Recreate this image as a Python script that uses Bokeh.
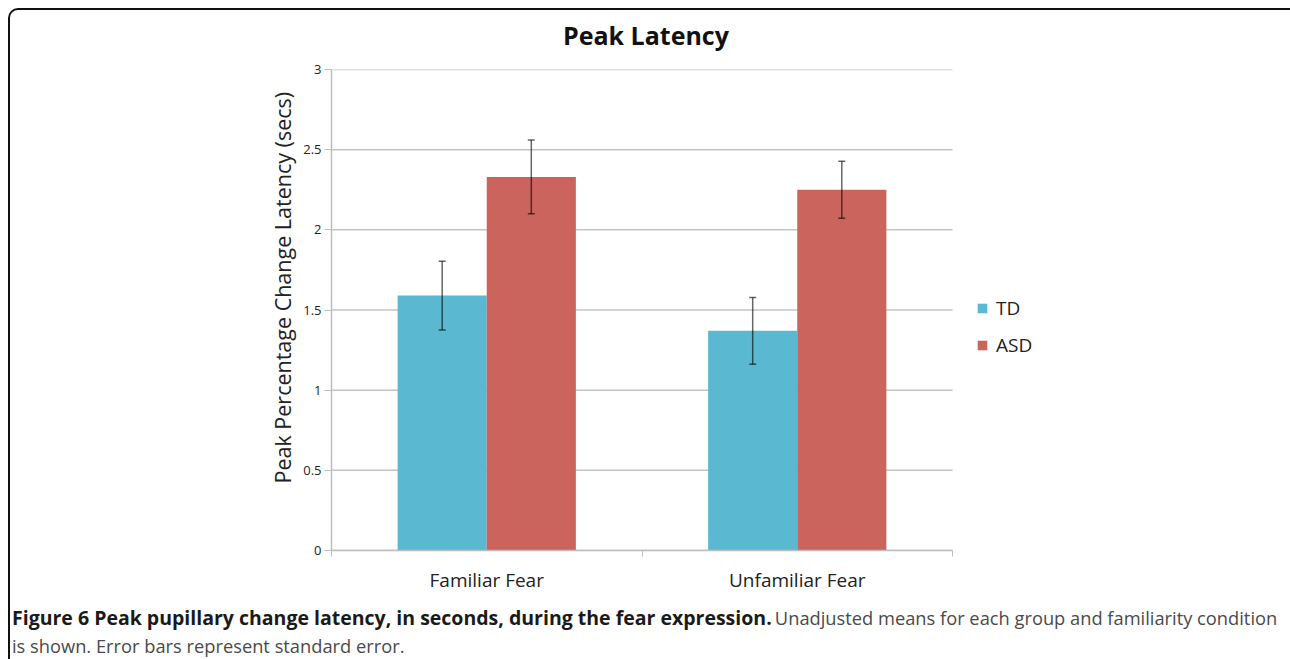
import numpy as np
from bokeh.plotting import figure
from bokeh.layouts import column
from bokeh.models import (ColumnDataSource, Range1d, FixedTicker, Whisker, TeeHead,
                          Legend, LegendItem, Title, Div)
from bokeh.embed import file_html
from bokeh.resources import INLINE

# ---- data ----
categories = ["Familiar Fear", "Unfamiliar Fear"]
groups = ["TD", "ASD"]
td_means = [1.59, 1.37]
td_se = [0.214, 0.208]
asd_means = [2.33, 2.25]
asd_se = [0.23, 0.177]
y_ticks = [0, 0.5, 1, 1.5, 2, 2.5, 3]
y_tick_labels = ["0", "0.5", "1", "1.5", "2", "2.5", "3"]
title_text = "Peak Latency"
y_title = "Peak Percentage Change Latency (secs)"
caption_bold = "Figure 6 Peak pupillary change latency, in seconds, during the fear expression."
caption_rest1 = "Unadjusted means for each group and familiarity condition"
caption_rest2 = "is shown. Error bars represent standard error."

TD_COLOR = "#5ab8d1"
ASD_COLOR = "#cb645d"
FONT = "Open Sans"

# ---- layout (canvas pixels; figure canvas starts at page (10,59)) ----
W = 1280
TITLE_H = 49
H = 541
FL, FT, FB = 321, 10, 491
PLOT_W = 621            # width of the axis/grid region in px
RIGHT = 10              # frame extends over the legend area
YMAX = 3
ncat = len(categories)
x_end = ncat * (W - RIGHT - FL) / PLOT_W

p = figure(width=W, height=H, output_backend="svg", toolbar_location=None,
           x_range=Range1d(0, x_end), y_range=Range1d(0, YMAX),
           min_border_left=FL, min_border_right=RIGHT,
           min_border_top=FT, min_border_bottom=H - FB)
p.background_fill_color = "white"
p.border_fill_color = "white"
p.outline_line_color = None

# horizontal grid lines, limited to the category span
GRID_COL = "#c4c4c4"
p.segment(x0=np.zeros(len(y_ticks)), y0=y_ticks, x1=np.full(len(y_ticks), ncat), y1=y_ticks,
          line_color=GRID_COL, line_width=1.5, level="underlay")

# bars
idx = np.arange(ncat) + 0.5
bw = 0.287
td = np.array(td_means)
asd = np.array(asd_means)
src_td = ColumnDataSource(dict(x=idx - bw / 2, top=td,
                               upper=td + np.array(td_se), lower=td - np.array(td_se)))
src_asd = ColumnDataSource(dict(x=idx + bw / 2, top=asd,
                                upper=asd + np.array(asd_se), lower=asd - np.array(asd_se)))
r_td = p.vbar(x="x", top="top", width=bw, source=src_td, fill_color=TD_COLOR, line_color=None)
r_asd = p.vbar(x="x", top="top", width=bw, source=src_asd, fill_color=ASD_COLOR, line_color=None)

for src in (src_td, src_asd):
    w = Whisker(base="x", upper="upper", lower="lower", source=src, level="overlay",
                line_color="black", line_alpha=0.6, line_width=1.5,
                upper_head=TeeHead(size=7, line_color="black", line_alpha=0.6, line_width=1.5),
                lower_head=TeeHead(size=7, line_color="black", line_alpha=0.6, line_width=1.5))
    p.add_layout(w)

# axes
AX_COL = "#bdbdbd"
p.yaxis.ticker = FixedTicker(ticks=y_ticks)
p.yaxis.major_label_overrides = {t: l for t, l in zip(y_ticks, y_tick_labels)}
p.yaxis.major_tick_out = 7
p.yaxis.major_tick_in = 0
p.yaxis.minor_tick_line_color = None
p.yaxis.major_label_standoff = 3
p.yaxis.major_label_text_font = FONT
p.yaxis.major_label_text_font_size = "13px"
p.yaxis.major_label_text_color = "#222222"
p.yaxis.axis_line_color = AX_COL
p.yaxis.major_tick_line_color = AX_COL
p.yaxis.axis_line_width = 1.5

p.xaxis.bounds = (0, ncat)
p.xaxis.ticker = FixedTicker(ticks=list(idx), minor_ticks=list(range(ncat + 1)))
p.xaxis.major_label_overrides = {float(i): c for i, c in zip(idx, categories)}
p.xaxis.major_tick_out = 0
p.xaxis.major_tick_in = 0
p.xaxis.minor_tick_out = 6
p.xaxis.minor_tick_in = 0
p.xaxis.minor_tick_line_color = AX_COL
p.xaxis.axis_line_color = AX_COL
p.xaxis.axis_line_width = 1.5
p.xaxis.major_label_standoff = 10
p.xaxis.major_label_text_font = FONT
p.xaxis.major_label_text_font_size = "19px"
p.xaxis.major_label_text_color = "#222222"

p.xgrid.visible = False
p.ygrid.visible = False

# y axis title (left panel)
p.add_layout(Title(text=y_title, align="left", offset=67, standoff=8,
                   text_font=FONT, text_font_size="21.5px", text_font_style="normal",
                   text_color="#222222"), "left")

# legend (inside the extended frame, to the right of the bars)
legend = Legend(items=[LegendItem(label=groups[0], renderers=[r_td]),
                       LegendItem(label=groups[1], renderers=[r_asd])],
                location=(645, 192), glyph_width=12, glyph_height=12,
                label_text_font=FONT, label_text_font_size="19px", label_text_color="#222222",
                padding=0, margin=0, spacing=11, label_standoff=8,
                border_line_color=None, background_fill_alpha=0)
p.add_layout(legend)

# chart title
title_html = (
    '<div style="font-family:\'Open Sans\';font-size:25px;font-weight:bold;color:#111111;'
    f'line-height:25px;padding-left:553px;padding-top:13px;white-space:nowrap;">{title_text}</div>'
)
title_div = Div(text=title_html, width=W, height=TITLE_H, margin=(0, 0, 0, 0))

# caption
cap_html = (
    '<div style="font-family:\'Open Sans\';line-height:25px;margin-left:-3px;'
    'color:#4a4a4a;white-space:nowrap;">'
    f'<b style="color:#1a1a1a;font-size:19.5px;">{caption_bold}</b> '
    f'<span style="font-size:18.3px;">{caption_rest1}</span><br>'
    f'<span style="font-size:18.3px;">{caption_rest2}</span></div>'
)
cap = Div(text=cap_html, width=W, height=59)

layout = column(title_div, p, cap, styles={"margin-left": "8px", "margin-top": "8px",
                                           "border-left": "2px solid #111111",
                                           "border-top": "2px solid #111111",
                                           "border-top-left-radius": "10px",
                                           "background-color": "white"})

open("out.html", "w").write(file_html(layout, INLINE))
